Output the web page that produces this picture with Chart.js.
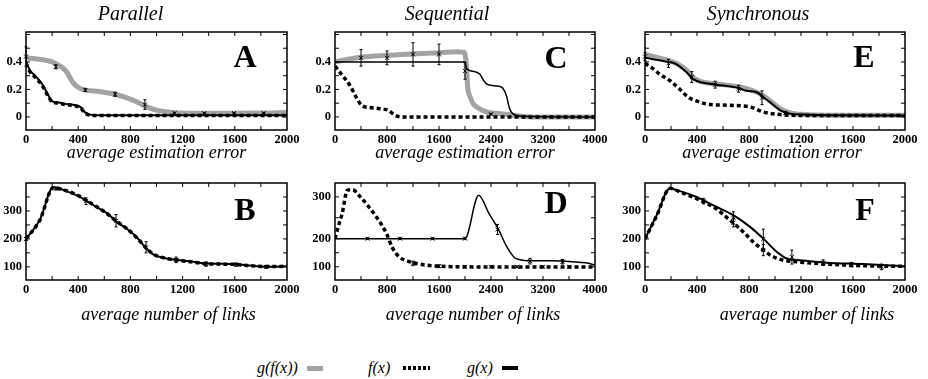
<!DOCTYPE html>
<html>
<head>
<meta charset="utf-8">
<script src="https://cdn.jsdelivr.net/npm/chart.js@4.4.1/dist/chart.umd.min.js"></script>
<style>
  body { margin: 0; background: #fff; width: 928px; height: 379px; position: relative; overflow: hidden; font-family: 'Liberation Serif', 'Times New Roman', serif; }
  canvas { position: absolute; }
  .key { position: absolute; top: 358px; font-style: italic; font-size: 16px; line-height: 20px; white-space: nowrap; }
  .swatch { position: absolute; }
</style>
</head>
<body>
<canvas id="pA" width="303" height="165" style="left:0px;top:0px"></canvas>
<canvas id="pC" width="302" height="165" style="left:309px;top:0px"></canvas>
<canvas id="pE" width="302" height="165" style="left:619px;top:0px"></canvas>
<canvas id="pB" width="303" height="165" style="left:0px;top:165px"></canvas>
<canvas id="pD" width="302" height="165" style="left:309px;top:165px"></canvas>
<canvas id="pF" width="302" height="165" style="left:619px;top:165px"></canvas>

<div class="key" style="left:257px">g(f(x))</div>
<div class="swatch" style="left:307px;top:366px;width:16px;height:5px;background:#a3a3a3"></div>
<div class="key" style="left:368px">f(x)</div>
<div class="swatch" style="left:403px;top:366px;width:27px;height:4px;background:repeating-linear-gradient(90deg,#000 0 3px,transparent 3px 5px)"></div>
<div class="key" style="left:467px">g(x)</div>
<div class="swatch" style="left:502px;top:366px;width:16px;height:4px;background:#000"></div>

<script>
// ---- estimation error, parallel (A) ----
const aGfX = [0, 100, 200, 260, 310, 360, 410, 460, 560, 680, 800, 870, 920, 1000, 1120, 1250, 1500, 1800, 2000];
const aGfY = [0.43, 0.42, 0.40, 0.37, 0.33, 0.25, 0.21, 0.195, 0.185, 0.165, 0.13, 0.10, 0.075, 0.05, 0.032, 0.027, 0.027, 0.028, 0.033];
const aFX = [0, 30, 80, 130, 170, 200, 250, 300, 380, 420, 450, 500, 560, 800, 1200, 1600, 2000];
const aFY = [0.39, 0.33, 0.28, 0.22, 0.15, 0.11, 0.10, 0.09, 0.08, 0.065, 0.03, 0.012, 0.01, 0.01, 0.01, 0.01, 0.01];
const aGX = [0, 30, 80, 130, 170, 200, 250, 300, 380, 420, 450, 500, 560, 800, 1200, 1600, 2000];
const aGY = [0.40, 0.34, 0.29, 0.23, 0.16, 0.115, 0.105, 0.095, 0.085, 0.07, 0.035, 0.015, 0.012, 0.012, 0.012, 0.012, 0.012];
const aErr = [[0, 0.44, 0.07], [228, 0.365, 0.015], [455, 0.195, 0.01], [683, 0.165, 0.015], [911, 0.09, 0.035],
              [1138, 0.028, 0.005], [1366, 0.027, 0.004], [1594, 0.028, 0.004], [1822, 0.028, 0.004]];

// ---- estimation error, sequential (C) ----
const cGfX = [0, 200, 410, 820, 1230, 1615, 1870, 1990, 2020, 2040, 2075, 2120, 2180, 2330, 2540, 2740, 2900, 3200, 4000];
const cGfY = [0.40, 0.42, 0.435, 0.448, 0.46, 0.467, 0.474, 0.47, 0.38, 0.22, 0.15, 0.10, 0.072, 0.036, 0.024, 0.012, 0.004, 0, 0];
const cFX = [0, 50, 100, 230, 330, 410, 540, 690, 820, 920, 1050, 1500, 2000, 3000, 4000];
const cFY = [0.37, 0.34, 0.31, 0.23, 0.14, 0.085, 0.068, 0.06, 0.048, 0.012, 0, 0, 0, 0, 0];
const cGX = [0, 2000, 2020, 2060, 2150, 2230, 2280, 2330, 2400, 2500, 2580, 2640, 2680, 2720, 2800, 2900, 4000];
const cGY = [0.40, 0.40, 0.36, 0.34, 0.33, 0.31, 0.27, 0.24, 0.23, 0.225, 0.21, 0.15, 0.07, 0.03, 0.01, 0.005, 0];
const cErr = [[400, 0.43, 0.06], [800, 0.43, 0.05], [1200, 0.455, 0.085], [1600, 0.455, 0.075], [2000, 0.335, 0.06], [2400, 0.02, 0.005]];

// ---- estimation error, synchronous (E) ----
const eGfX = [0, 180, 250, 320, 380, 440, 550, 720, 800, 880, 960, 1040, 1115, 1220, 1400, 2000];
const eGfY = [0.455, 0.41, 0.385, 0.34, 0.28, 0.255, 0.24, 0.22, 0.20, 0.17, 0.12, 0.06, 0.03, 0.018, 0.013, 0.012];
const eFX = [0, 50, 115, 190, 270, 330, 400, 500, 650, 810, 910, 1010, 1115, 1300, 2000];
const eFY = [0.39, 0.36, 0.31, 0.265, 0.20, 0.145, 0.115, 0.09, 0.085, 0.072, 0.036, 0.02, 0.012, 0.01, 0.01];
const eGX = [0, 180, 240, 320, 370, 440, 550, 720, 780, 860, 910, 960, 1040, 1115, 1220, 1400, 2000];
const eGY = [0.43, 0.40, 0.385, 0.325, 0.275, 0.25, 0.235, 0.21, 0.19, 0.18, 0.145, 0.108, 0.048, 0.024, 0.017, 0.012, 0.01];
const eErr = [[0, 0.44, 0.03], [180, 0.39, 0.03], [360, 0.29, 0.04], [540, 0.235, 0.025], [720, 0.205, 0.025], [900, 0.14, 0.05], [1080, 0.03, 0.01]];

// ---- number of links, parallel (B) ----
const bX  = [0, 107, 209, 311, 413, 464, 541, 617, 694, 770, 847, 923, 974, 1077, 1179, 1281, 1383, 1587, 1689, 1842, 2000];
const bGY = [200, 269, 385, 371, 350, 336, 314, 293, 261, 237, 207, 165, 145, 130, 124, 118, 112, 110, 106, 100, 102];
const bFY = [200, 268, 383, 372, 352, 337, 315, 292, 263, 238, 205, 167, 146, 130, 123, 117, 111, 109, 105, 101, 102];
const bErr = [[0, 200, 5], [230, 380, 5], [460, 335, 12], [690, 265, 22], [920, 170, 20], [1150, 125, 10], [1380, 110, 8], [1610, 108, 6], [1840, 100, 5]];

// ---- number of links, sequential (D) ----
const dFX = [0, 50, 110, 190, 270, 390, 500, 650, 790, 880, 985, 1140, 1340, 1600, 2000, 3000, 4000];
const dFY = [200, 229, 260, 316, 317, 300, 280, 249, 213, 169, 136, 118, 108, 102, 100, 99, 99];
const dGX = [0, 2000, 2210, 2370, 2520, 2630, 2780, 3040, 3340, 3650, 3860, 4000];
const dGY = [200, 200, 304, 260, 221, 177, 130, 121, 121, 118, 114, 106];
const dErr = [[500, 200, 2], [1000, 200, 2], [1500, 200, 2], [2000, 200, 3], [2500, 222, 12], [3000, 120, 10], [3500, 118, 8],
              [1200, 112, 8], [1600, 102, 5], [2000, 100, 4], [2400, 100, 3], [2800, 100, 3], [3200, 100, 3], [3600, 100, 3]];

// ---- number of links, synchronous (F) ----
const fGX = [0, 90, 192, 269, 397, 526, 679, 808, 910, 1013, 1090, 1192, 1397, 1679, 2000];
const fGY = [200, 285, 380, 371, 350, 320, 285, 243, 201, 154, 130, 124, 115, 110, 102];
const fFX = [0, 90, 192, 269, 397, 526, 654, 756, 833, 910, 987, 1064, 1167, 1397, 1679, 2000];
const fFY = [200, 283, 381, 368, 344, 314, 267, 225, 189, 160, 136, 124, 118, 110, 104, 102];
const fErr = [[450, 335, 10], [680, 275, 22], [910, 200, 35], [1130, 135, 25], [1370, 115, 10], [1590, 108, 8], [1820, 100, 10], [680, 258, 15], [910, 160, 20]];

// tick labels
const errTicks = [0, 0.2, 0.4];
const linkTicks = [100, 200, 300];

// the links axis of panel D is stretched above 200
const dWarpFrom = [54, 100, 200, 300, 333];
const dWarpTo   = [54, 92, 173, 293, 333];

function interp(v, from, to) {
  for (let i = 1; i < from.length; i++) {
    if (v <= from[i] || i === from.length - 1) {
      const t = (v - from[i - 1]) / (from[i] - from[i - 1]);
      return to[i - 1] + t * (to[i] - to[i - 1]);
    }
  }
}

class WarpScale extends Chart.LinearScale {
  getPixelForValue(value) { return super.getPixelForValue(interp(value, dWarpFrom, dWarpTo)); }
  getValueForPixel(pixel) { return interp(super.getValueForPixel(pixel), dWarpTo, dWarpFrom); }
}
WarpScale.id = 'warp';
WarpScale.defaults = Chart.LinearScale.defaults;
Chart.register(WarpScale);

Chart.defaults.font.family = "'Liberation Serif', 'Times New Roman', serif";
Chart.defaults.color = '#000';

const GRAY = '#a3a3a3';
const tickFont = { size: 12.5, weight: 'bold' };

function series(xs, ys) {
  return xs.map((x, i) => ({ x: x, y: ys[i] }));
}

// solid g(x) on top, dotted f(x) under it, grey g(f(x)) at the bottom
function lineSets(g, f, gf, solidWidth) {
  const common = { pointRadius: 0, fill: false, cubicInterpolationMode: 'monotone' };
  const sets = [
    Object.assign({ data: g, borderColor: '#000', borderWidth: solidWidth }, common),
    Object.assign({ data: f, borderColor: '#000', borderWidth: 3.5, borderDash: [4, 3] }, common)
  ];
  if (gf) sets.push(Object.assign({ data: gf, borderColor: GRAY, borderWidth: 5, borderCapStyle: 'round' }, common));
  return sets;
}

// frame with inward ticks, error bars, panel letter and titles
function decor(cfg) {
  return {
    id: 'decor',
    afterDatasetsDraw(chart) {
      const { ctx, chartArea: a, scales: { x, y } } = chart;
      ctx.save();
      ctx.strokeStyle = '#000';
      ctx.lineWidth = 1;
      cfg.err.forEach(([vx, vy, e]) => {
        const px = x.getPixelForValue(vx);
        const lo = y.getPixelForValue(vy - e), hi = y.getPixelForValue(vy + e), pc = y.getPixelForValue(vy);
        ctx.beginPath();
        ctx.moveTo(px, lo); ctx.lineTo(px, hi);
        ctx.moveTo(px - 1.5, lo); ctx.lineTo(px + 1.5, lo);
        ctx.moveTo(px - 1.5, hi); ctx.lineTo(px + 1.5, hi);
        ctx.moveTo(px - 2, pc - 2); ctx.lineTo(px + 2, pc + 2);
        ctx.moveTo(px - 2, pc + 2); ctx.lineTo(px + 2, pc - 2);
        ctx.stroke();
      });

      ctx.beginPath();
      const xs = cfg.xStep / 2;
      for (let v = xs; v < cfg.xMax; v += xs) {
        const p = x.getPixelForValue(v);
        ctx.moveTo(p, a.bottom); ctx.lineTo(p, a.bottom - 4);
        ctx.moveTo(p, a.top); ctx.lineTo(p, a.top + 4);
      }
      const ys = cfg.yStep / 2;
      for (let v = Math.ceil(cfg.yMin / ys) * ys; v < cfg.yMax; v += ys) {
        const p = y.getPixelForValue(v);
        ctx.moveTo(a.left, p); ctx.lineTo(a.left + 4, p);
        ctx.moveTo(a.right, p); ctx.lineTo(a.right - 4, p);
      }
      ctx.stroke();

      ctx.lineWidth = 1.5;
      ctx.strokeRect(a.left, a.top, a.right - a.left, a.bottom - a.top);
      ctx.restore();
    },
    afterDraw(chart) {
      const { ctx, chartArea: a } = chart;
      const mid = (a.left + a.right) / 2;
      ctx.save();
      ctx.fillStyle = '#000';
      ctx.textAlign = 'center';
      ctx.textBaseline = 'middle';
      ctx.font = "bold 32px 'Liberation Serif', serif";
      ctx.fillText(cfg.letter, a.right + cfg.letterDx, a.top + cfg.letterDy);
      ctx.font = "italic 18px 'Liberation Serif', serif";
      ctx.fillText(cfg.xTitle, mid + cfg.xTitleDx, a.bottom + cfg.xTitleDy);
      if (cfg.heading) {
        ctx.font = "italic 20px 'Liberation Serif', serif";
        ctx.fillText(cfg.heading, mid + cfg.headingDx, 15);
      }
      ctx.restore();
    }
  };
}

function panel(id, cfg) {
  const labels = cfg.yLabels;
  new Chart(document.getElementById(id), {
    type: 'line',
    data: { datasets: cfg.datasets },
    options: {
      responsive: false,
      animation: false,
      events: [],
      layout: { padding: { top: cfg.padTop, right: 16, left: 0, bottom: 0 } },
      plugins: { legend: { display: false }, tooltip: { enabled: false } },
      scales: {
        x: {
          type: 'linear', min: 0, max: cfg.xMax,
          grid: { display: false, drawTicks: false }, border: { display: false },
          ticks: { stepSize: cfg.xStep, padding: 2, maxRotation: 0, autoSkip: false, font: tickFont,
                   callback: v => String(v) },
          afterFit: s => { s.height = cfg.xHeight; }
        },
        y: {
          type: cfg.yType || 'linear', min: cfg.yMin, max: cfg.yMax,
          grid: { display: false, drawTicks: false }, border: { display: false },
          ticks: { stepSize: cfg.yStep, padding: 4, includeBounds: false, autoSkip: false, font: tickFont,
                   callback: v => labels.some(t => Math.abs(t - v) < 1e-9) ? String(v) : '' },
          afterFit: s => { s.width = 26; }
        }
      }
    },
    plugins: [decor(cfg)]
  });
}

const errAxis = { yMin: -0.095, yMax: 0.618, yStep: 0.2, yLabels: errTicks, padTop: 32, xHeight: 35, xTitle: 'average estimation error', xTitleDy: 23 };
const linkAxis = { yMin: 53, yMax: 400, yStep: 100, yLabels: linkTicks, padTop: 18, xHeight: 50, xTitle: 'average number of links', xTitleDy: 35 };

panel('pA', Object.assign({}, errAxis, {
  datasets: lineSets(series(aGX, aGY), series(aFX, aFY), series(aGfX, aGfY), 2),
  err: aErr, xMax: 2000, xStep: 400, letter: 'A', letterDx: -42, letterDy: 27,
  heading: 'Parallel', headingDx: -26, xTitleDx: 0
}));
panel('pC', Object.assign({}, errAxis, {
  datasets: lineSets(series(cGX, cGY), series(cFX, cFY), series(cGfX, cGfY), 1.5),
  err: cErr, xMax: 4000, xStep: 800, letter: 'C', letterDx: -39, letterDy: 28,
  heading: 'Sequential', headingDx: -18, xTitleDx: 0
}));
panel('pE', Object.assign({}, errAxis, {
  datasets: lineSets(series(eGX, eGY), series(eFX, eFY), series(eGfX, eGfY), 2),
  err: eErr, xMax: 2000, xStep: 400, letter: 'E', letterDx: -41, letterDy: 27,
  heading: 'Synchronous', headingDx: -17, xTitleDx: -3
}));
panel('pB', Object.assign({}, linkAxis, {
  datasets: lineSets(series(bX, bGY), series(bX, bFY), null, 2),
  err: bErr, xMax: 2000, xStep: 400, letter: 'B', letterDx: -42, letterDy: 29, xTitleDx: 12
}));
panel('pD', Object.assign({}, linkAxis, {
  datasets: lineSets(series(dGX, dGY), series(dFX, dFY), null, 1.5),
  err: dErr, xMax: 4000, xStep: 800, letter: 'D', letterDx: -39, letterDy: 22, xTitleDx: 8,
  yType: 'warp', yMin: 54, yMax: 333
}));
panel('pF', Object.assign({}, linkAxis, {
  datasets: lineSets(series(fGX, fGY), series(fFX, fFY), null, 2),
  err: fErr, xMax: 2000, xStep: 400, letter: 'F', letterDx: -40, letterDy: 29, xTitleDx: 32
}));
</script>
</body>
</html>
